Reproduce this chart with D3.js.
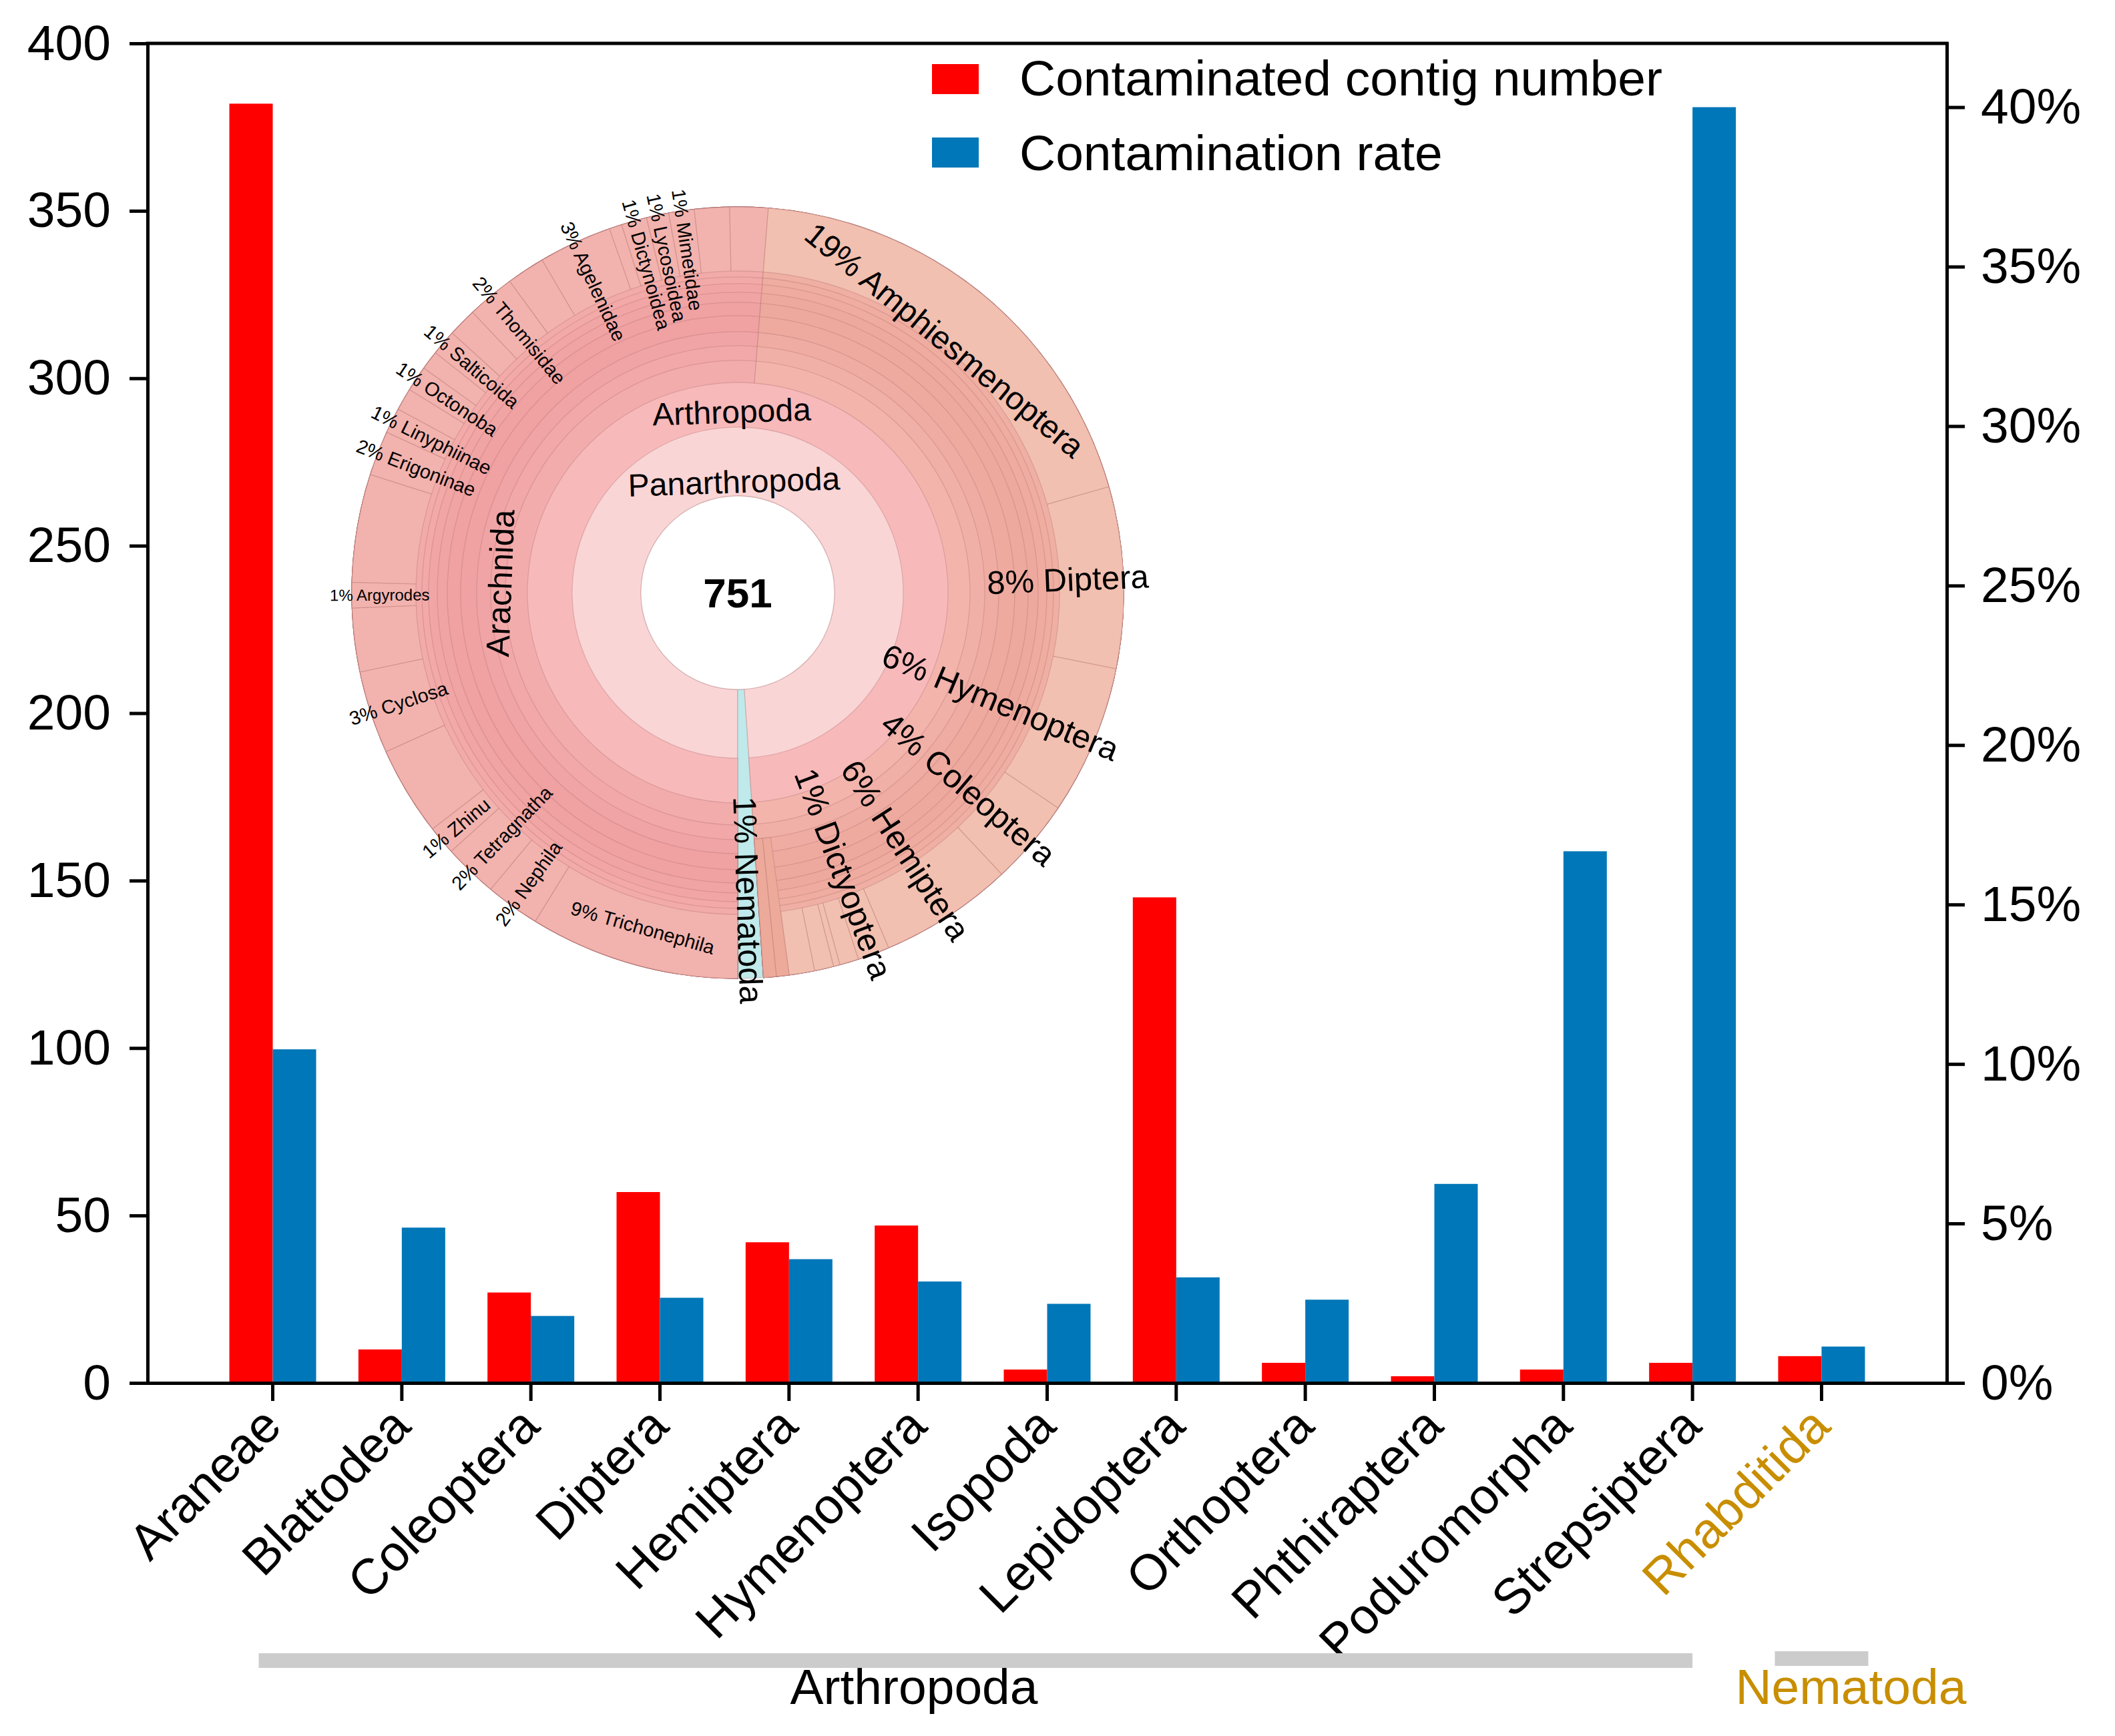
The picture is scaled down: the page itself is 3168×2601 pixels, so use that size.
<!DOCTYPE html>
<html><head><meta charset="utf-8">
<script src="https://cdn.jsdelivr.net/npm/d3@7"></script>
<style>
html,body{margin:0;padding:0;background:#fff;}
svg{display:block;}
text{font-family:"Liberation Sans", Arial, Helvetica, sans-serif;}
</style>
</head><body>
<svg id="chart" width="3168" height="2601"></svg>
<script>
// ---------------- DATA ----------------
const categories = ["Araneae","Blattodea","Coleoptera","Diptera","Hemiptera","Hymenoptera","Isopoda","Lepidoptera","Orthoptera","Phthiraptera","Poduromorpha","Strepsiptera","Rhabditida"];
const categoryPhylum = ["Arthropoda","Arthropoda","Arthropoda","Arthropoda","Arthropoda","Arthropoda","Arthropoda","Arthropoda","Arthropoda","Arthropoda","Arthropoda","Arthropoda","Nematoda"];
const contigCounts = [382,10,27,57,42,47,4,145,6,2,4,6,8];
const contaminationRate = [0.1046,0.0487,0.0210,0.0267,0.0388,0.0318,0.0248,0.0331,0.0261,0.0624,0.1667,0.4000,0.0114];
const leftTicks = [0,50,100,150,200,250,300,350,400];
const rightTicks = [0,0.05,0.10,0.15,0.20,0.25,0.30,0.35,0.40];
const seriesNames = ["Contaminated contig number","Contamination rate"];
const phyla = ["Arthropoda","Nematoda"];

// Krona (sunburst) data, clockwise starting at the bottom
const kronaTotal = 751;
const arachnidaLeaves = ["Trichonephila","Nephila","Tetragnatha","Zhinu","","Cyclosa","","Argyrodes","","Erigoninae","Linyphiinae","","Octonoba","","Salticoida","","Thomisidae","","Agelenidae","","Dictynoidea","Lycosoidea","Mimetidae","",""];
const arachnidaValues = [66,17,17,9,28,26,20,8,34,14,8,7,8,6,8,9,15,12,23,4,8,7,8,11,12];
const otherArthropodLeaves = ["Amphiesmenoptera","Diptera","Hymenoptera","Coleoptera","Hemiptera","Dictyoptera","","","","","",""];
const otherArthropodValues = [145,57,47,27,42,10,6,2,6,8,4,4];
const nonInsectLeafCount = 2;   // last two entries above: Isopoda, Poduromorpha
const nematodaValue = 8;
const innerNames = ["Panarthropoda","Arthropoda","Arachnida"];

// ---------------- STYLE ----------------
const RED = "#ff0000", BLUE = "#0077b8", GOLD = "#c88e00", GREY = "#cccccc";
const FONT = 75;
const svg = d3.select("#chart");
const plot = {left:221, right:2916, top:65, bottom:2072};

// ---------------- SCALES ----------------
const x = d3.scaleBand().domain(categories).range([plot.left, plot.right]).paddingInner(0).paddingOuter(0.47);
const yL = d3.scaleLinear().domain([0,400]).range([plot.bottom, plot.top]);
const yR = d3.scaleLinear().domain([0,0.42]).range([plot.bottom, plot.top]);
const barW = 65;
const cxOf = d => x(d) + x.bandwidth()/2;

// ---------------- BARS ----------------
const gBars = svg.append("g");
gBars.selectAll("rect.count").data(categories).join("rect").attr("class","count")
  .attr("x", d => cxOf(d) - barW).attr("width", barW)
  .attr("y", (d,i) => yL(contigCounts[i])).attr("height", (d,i) => yL(0) - yL(contigCounts[i]))
  .attr("fill", RED);
gBars.selectAll("rect.rate").data(categories).join("rect").attr("class","rate")
  .attr("x", d => cxOf(d)).attr("width", barW)
  .attr("y", (d,i) => yR(contaminationRate[i])).attr("height", (d,i) => yR(0) - yR(contaminationRate[i]))
  .attr("fill", BLUE);

// ---------------- AXES ----------------
function styleAxis(g){
  g.select(".domain").attr("stroke","#000").attr("stroke-width",5).attr("stroke-linecap","square");
  g.selectAll(".tick line").attr("stroke","#000").attr("stroke-width",5);
  g.selectAll(".tick text").attr("font-size",FONT).attr("fill","#000").attr("font-family",'"Liberation Sans", Arial, sans-serif');
}
svg.append("g").attr("transform",`translate(${plot.left},0)`)
  .call(d3.axisLeft(yL).tickValues(leftTicks).tickSize(27).tickSizeOuter(0).tickPadding(28)).call(styleAxis);
svg.append("g").attr("transform",`translate(${plot.right},0)`)
  .call(d3.axisRight(yR).tickValues(rightTicks).tickFormat(d3.format(".0%")).tickSize(27).tickSizeOuter(0).tickPadding(24)).call(styleAxis);
const gx = svg.append("g").attr("transform",`translate(0,${plot.bottom})`)
  .call(d3.axisBottom(x).tickSize(27).tickSizeOuter(0)).call(styleAxis);
gx.selectAll(".tick text").remove();
svg.append("line").attr("x1",plot.left).attr("x2",plot.right).attr("y1",plot.top).attr("y2",plot.top)
  .attr("stroke","#000").attr("stroke-width",5).attr("stroke-linecap","square");

// category labels
svg.append("g").selectAll("text").data(categories).join("text")
  .attr("transform", d => `translate(${cxOf(d)-2},${plot.bottom+50}) rotate(-45)`)
  .attr("text-anchor","end").attr("dy","0.35em").attr("font-size",75)
  .attr("fill", (d,i) => categoryPhylum[i]==="Nematoda" ? GOLD : "#000")
  .text(d => d);

// phylum brackets
const bracketSpec = phyla.map(p => {
  const cats = categories.filter((c,i)=>categoryPhylum[i]===p);
  return {p, first:cats[0], last:cats[cats.length-1]};
});
bracketSpec.forEach(b => {
  const single = b.first === b.last;
  const x0 = single ? cxOf(b.first)-70 : cxOf(b.first)-21;
  const x1 = single ? cxOf(b.last)+70 : cxOf(b.last);
  const yb = single ? 2474 : 2477;
  svg.append("rect").attr("x",x0).attr("y",yb).attr("width",x1-x0).attr("height",22).attr("fill",GREY);
  const tx = single ? (x0+x1)/2 + 44 : x0 + (x1-x0)*0.457;
  svg.append("text").attr("x",tx).attr("y",2553).attr("text-anchor","middle").attr("font-size",75)
    .attr("fill", b.p==="Nematoda" ? GOLD : "#000").text(b.p);
});

// legend
const lg = svg.append("g");
seriesNames.forEach((s,i) => {
  lg.append("rect").attr("x",1396).attr("y",96 + i*110).attr("width",70).attr("height",45).attr("fill", i===0?RED:BLUE);
  lg.append("text").attr("x",1527).attr("y",143 + i*112).attr("font-size",75).attr("fill","#000").text(s);
});

// ---------------- KRONA SUNBURST ----------------
const cx = 1105, cy = 888, R = 578;
const rL1 = 145, rL2 = 248, rL3 = 315, rLeaf = 482;
const thinRadii = [348,370,391,415,435,450,463,473];
const arachRingFill = ["#f3acac","#f2a8a9","#f1a4a5","#f0a1a2","#f0a1a2","#f1a4a4","#f1a6a5","#f2a9a7","#f2aba9"];
const otherRingFill = ["#f3b4ac","#f1b0a7","#efaca2","#eeaa9f","#eea99e","#eea99e","#efab9f","#efada1","#f0afa3"];
const arachLeafFill = "#f2b3ae", otherLeafFill = "#f2c0b0", nonInsectFill = "#eda99a";
const kStroke = "rgba(170,110,108,0.32)";

const ang = d3.scaleLinear().domain([0,kronaTotal]).range([Math.PI, 3*Math.PI]);
const arcGen = d3.arc();
const kg = svg.append("g").attr("transform",`translate(${cx},${cy})`);
function wedge(v0,v1,r0,r1,fill){
  kg.append("path").attr("d", arcGen({innerRadius:r0, outerRadius:r1, startAngle:ang(v0), endAngle:ang(v1)}))
    .attr("fill",fill).attr("stroke",kStroke).attr("stroke-width",1.3);
}
const arachTotal = d3.sum(arachnidaValues);
const panTotal = arachTotal + d3.sum(otherArthropodValues);

wedge(0, panTotal, rL1, R, "#fad5d6");
wedge(panTotal, panTotal+nematodaValue, rL1, R, "#bfe9ea");
wedge(0, panTotal, rL2, R, "#f7b9ba");
[rL3, ...thinRadii].forEach((r,k) => {
  wedge(0, arachTotal, r, R, arachRingFill[k]);
  wedge(arachTotal, panTotal, r, R, otherRingFill[k]);
});
// leaves
let acc = 0;
const leafInfo = [];
arachnidaLeaves.forEach((n,i) => { leafInfo.push({n, v0:acc, v1:acc+arachnidaValues[i], side:"arach"}); acc += arachnidaValues[i]; });
otherArthropodLeaves.forEach((n,i) => {
  const nonInsect = i >= otherArthropodLeaves.length - nonInsectLeafCount;
  leafInfo.push({n, v0:acc, v1:acc+otherArthropodValues[i], side: nonInsect ? "noninsect" : "other"});
  acc += otherArthropodValues[i];
});
leafInfo.forEach(l => {
  if (l.side === "noninsect") wedge(l.v0, l.v1, thinRadii[1], R, nonInsectFill);
  else wedge(l.v0, l.v1, rLeaf, R, l.side==="arach" ? arachLeafFill : otherLeafFill);
});
leafInfo.push({n:"Nematoda", v0:panTotal, v1:panTotal+nematodaValue, side:"nema"});

// hole
kg.append("circle").attr("r",rL1).attr("fill","#fff").attr("stroke",kStroke).attr("stroke-width",1.3);
kg.append("text").attr("text-anchor","middle").attr("dominant-baseline","central").attr("font-size",62)
  .attr("font-weight","bold").attr("fill","#000").text(kronaTotal);

const deg = v => ang(v)*180/Math.PI;
function tangentLabel(theta, r, txt, size){
  const t = ((theta%360)+360)%360;
  const tr = (t>90 && t<270) ? `rotate(${t-180}) translate(0,${r})` : `rotate(${t}) translate(0,${-r})`;
  kg.append("text").attr("transform",tr).attr("text-anchor","middle").attr("dominant-baseline","central")
    .attr("font-size",size).attr("fill","#000").text(txt);
}
function radialLabel(theta, rA, txt, size){
  const t = ((theta%360)+360)%360;
  const right = t < 180;
  const tr = right ? `rotate(${t-90}) translate(${rA},0)` : `rotate(${t+90}) translate(${-rA},0)`;
  kg.append("text").attr("transform",tr).attr("text-anchor", right ? "end" : "start").attr("dominant-baseline","central")
    .attr("font-size",size).attr("fill","#000").text(txt);
}
// inner labels
tangentLabel(deg(panTotal/2), 166, innerNames[0], 48);
tangentLabel(deg(panTotal/2), 271, innerNames[1], 48);
tangentLabel(deg(arachTotal/2), 356, innerNames[2], 49);
// leaf labels
const tangentLeaves = {Amphiesmenoptera:489, Trichonephila:522};
const smallFont = {Argyrodes:24};
leafInfo.filter(l => l.n).forEach(l => {
  const theta = deg((l.v0+l.v1)/2);
  const txt = `${Math.round((l.v1-l.v0)/kronaTotal*100)}% ${l.n}`;
  const size = smallFont[l.n] || (l.side==="arach" ? 29 : 49);
  if (tangentLeaves[l.n]) tangentLabel(theta, tangentLeaves[l.n], txt, l.n==="Amphiesmenoptera" ? 48 : size);
  else radialLabel(theta, l.side==="arach" ? 611 : 616, txt, size);
});
</script>
</body></html>
